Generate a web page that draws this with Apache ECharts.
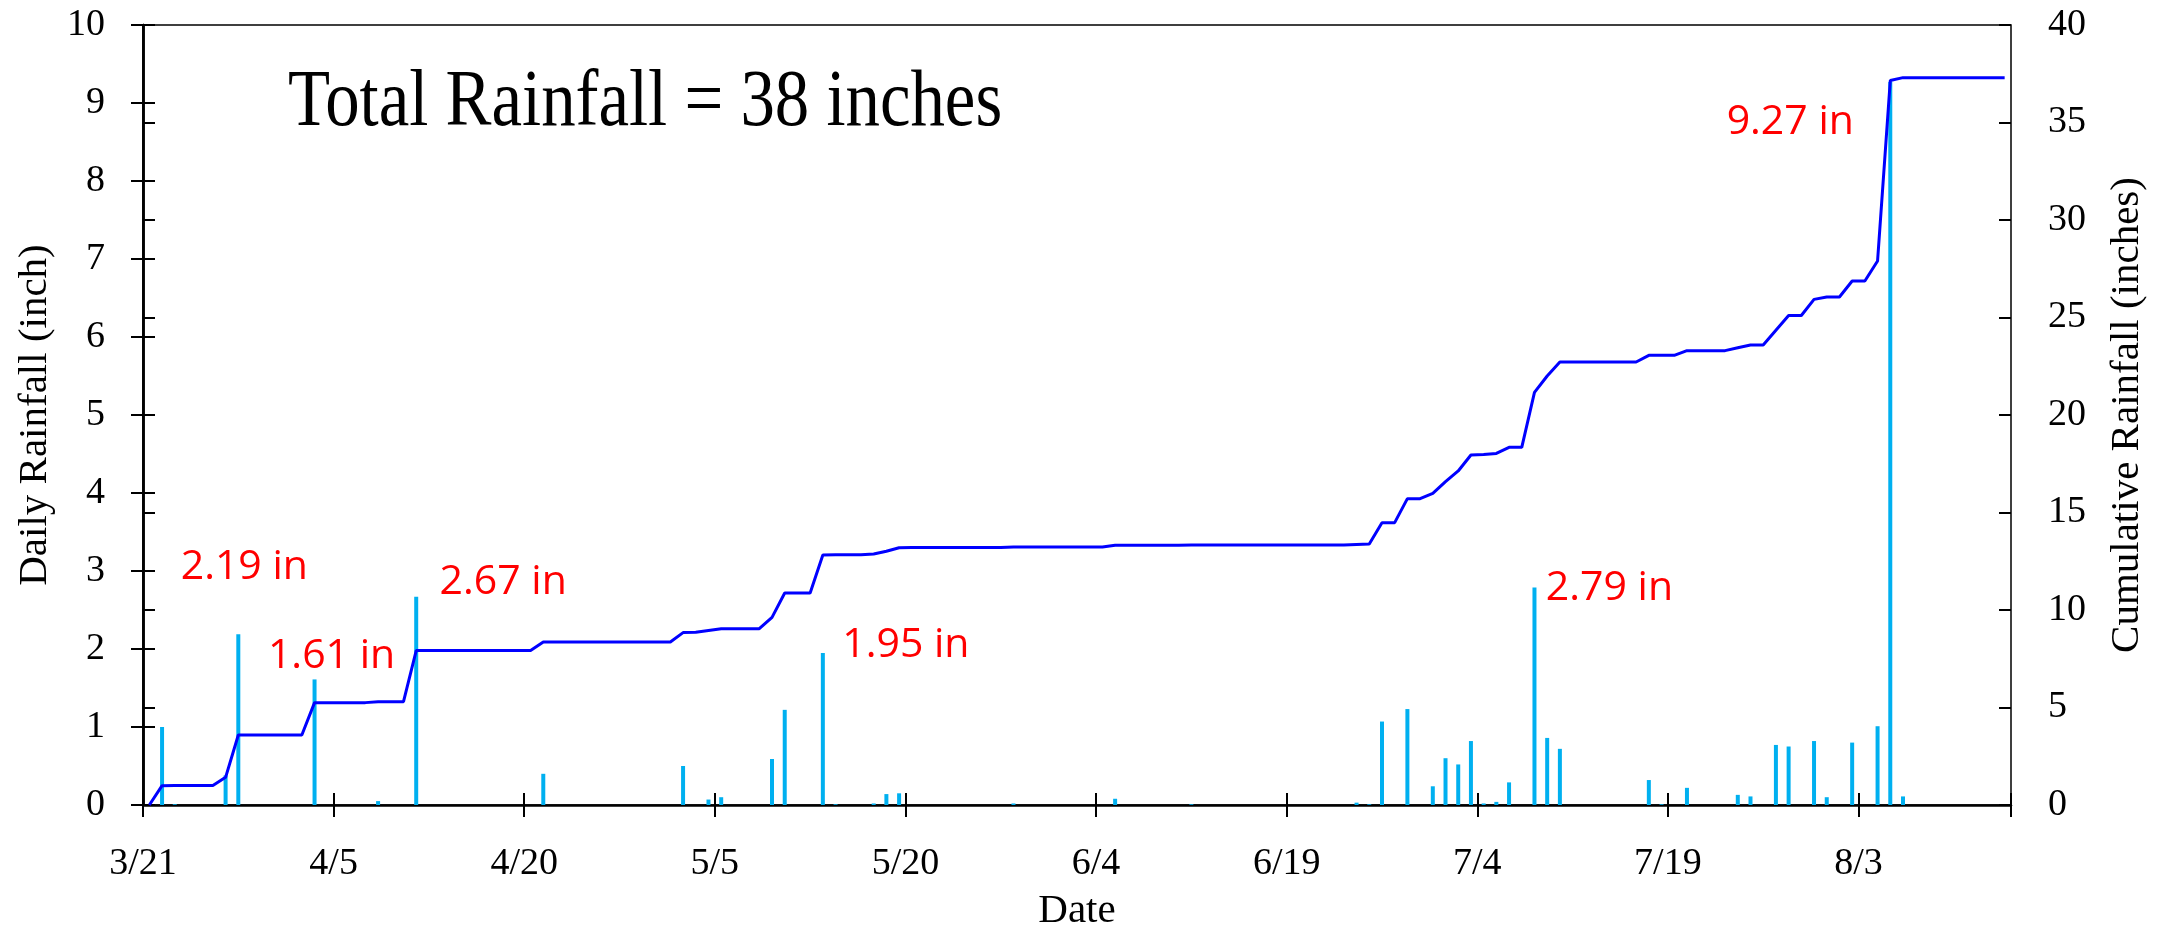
<!DOCTYPE html>
<html lang="en">
<head>
    <meta charset="UTF-8">
    <title>Rainfall</title>
    <script type="text/javascript" src="https://cdn.jsdelivr.net/npm/echarts@6/dist/echarts.min.js"></script>
    <style>
        body { margin: 0; background: #fff; }
    </style>
</head>
<body>
    <div id="main" style="width: 2165px;height:933px;"></div>
    <script type="text/javascript">

        // daily rainfall (inch), one value per day starting 3/21
        var daily = [
            0, 1.0, 0.01, 0, 0, 0, 0.38, 2.19, 0, 0,
            0, 0, 0, 1.61, 0, 0, 0, 0, 0.05, 0,
            0, 2.67, 0, 0, 0, 0, 0, 0, 0, 0,
            0, 0.40, 0, 0, 0, 0, 0, 0, 0, 0,
            0, 0, 0.50, 0, 0.07, 0.10, 0, 0, 0, 0.59,
            1.22, 0, 0, 1.95, 0.01, 0, 0, 0.02, 0.14, 0.15,
            0, 0, 0, 0, 0, 0, 0, 0, 0.02, 0,
            0, 0, 0, 0, 0, 0, 0.08, 0, 0, 0,
            0, 0, 0.01, 0, 0, 0, 0, 0, 0, 0,
            0, 0, 0, 0, 0, 0.03, 0.01, 1.07, 0, 1.23,
            0, 0.24, 0.60, 0.52, 0.82, 0.02, 0.04, 0.29, 0, 2.79,
            0.86, 0.72, 0, 0, 0, 0, 0, 0, 0.32, 0.01,
            0, 0.22, 0, 0, 0, 0.13, 0.11, 0, 0.77, 0.75,
            0, 0.82, 0.10, 0, 0.80, 0, 1.01, 9.27, 0.11, 0,
            0, 0, 0, 0, 0, 0, 0
        ];

        // cumulative rainfall (inches), same days
        var cumulative = [
            0, 0.99, 1.0, 1.0, 1.0, 1.0, 1.42, 3.59, 3.59, 3.59,
            3.59, 3.59, 3.59, 5.25, 5.25, 5.25, 5.25, 5.25, 5.3, 5.3,
            5.3, 7.92, 7.92, 7.92, 7.92, 7.92, 7.92, 7.92, 7.92, 7.92,
            7.92, 8.36, 8.36, 8.36, 8.36, 8.36, 8.36, 8.36, 8.36, 8.36,
            8.36, 8.36, 8.84, 8.86, 8.95, 9.04, 9.04, 9.04, 9.04, 9.62,
            10.87, 10.87, 10.87, 12.82, 12.83, 12.83, 12.83, 12.87, 13.01, 13.19,
            13.2, 13.2, 13.2, 13.2, 13.2, 13.2, 13.2, 13.2, 13.23, 13.23,
            13.23, 13.23, 13.23, 13.23, 13.23, 13.23, 13.32, 13.32, 13.32, 13.32,
            13.32, 13.32, 13.33, 13.33, 13.33, 13.33, 13.33, 13.33, 13.33, 13.33,
            13.33, 13.33, 13.33, 13.33, 13.33, 13.36, 13.38, 14.48, 14.48, 15.71,
            15.71, 15.98, 16.58, 17.13, 17.95, 17.98, 18.03, 18.34, 18.34, 21.16,
            22.0, 22.72, 22.72, 22.72, 22.72, 22.72, 22.72, 22.72, 23.06, 23.06,
            23.06, 23.3, 23.3, 23.3, 23.3, 23.45, 23.59, 23.59, 24.35, 25.1,
            25.1, 25.93, 26.05, 26.05, 26.87, 26.87, 27.9, 37.15, 37.3, 37.3,
            37.3, 37.3, 37.3, 37.3, 37.3, 37.3, 37.3
        ];

        // x tick labels, every 15 days
        var tickLabels = ['3/21', '4/5', '4/20', '5/5', '5/20', '6/4', '6/19', '7/4', '7/19', '8/3'];

        // days that get a red value label, and where the label sits (px from bar top)
        var labelDays = [7, 13, 21, 53, 109, 137];
        var labelOffsets = [[6, -67], [17, -23], [87, -14], [83, -8], [75, 1], [-100, 40]];

        var titleText = 'Total Rainfall = 38 inches';

        var serif = 'Liberation Serif';
        var numDays = daily.length;

        // each day is drawn at its middle
        var barData = daily.map(function (v, i) { return [i + 0.5, v]; });
        var lineData = cumulative.map(function (v, i) { return [i + 0.5, v]; });

        var markData = labelDays.map(function (d, k) {
            return {
                coord: [d + 0.5, daily[d]],
                value: daily[d],
                label: { offset: labelOffsets[k] }
            };
        });

        var myChart = echarts.init(document.getElementById('main'));

        var option = {
            animation: false,
            backgroundColor: '#fff',
            grid: {
                left: 143, right: 154, top: 25, bottom: 128,
                outerBoundsMode: 'none',
                show: true, borderColor: '#000', borderWidth: 1.5
            },
            graphic: [{
                type: 'text',
                x: 288,
                y: 104,
                scaleX: 0.86,
                style: {
                    text: titleText,
                    fontSize: 80,
                    fontFamily: serif,
                    fill: '#000',
                    align: 'left',
                    verticalAlign: 'middle'
                }
            }],
            xAxis: [{
                type: 'value',
                min: 0,
                max: numDays,
                interval: 15,
                name: 'Date',
                nameLocation: 'middle',
                nameGap: 86,
                nameTextStyle: { fontFamily: serif, fontSize: 41, color: '#000' },
                axisLine: { lineStyle: { color: '#000', width: 2.5 } },
                axisTick: { length: 12, lineStyle: { color: '#000', width: 2 } },
                axisLabel: {
                    margin: 40,
                    fontFamily: serif, fontSize: 38, color: '#000',
                    formatter: function (v) {
                        return v % 15 === 0 ? (tickLabels[v / 15] || '') : '';
                    }
                },
                splitLine: { show: false }
            }, {
                // inner half of the crossing ticks
                type: 'value',
                min: 0,
                max: numDays,
                interval: 15,
                position: 'bottom',
                axisLine: { show: false },
                axisTick: { inside: true, length: 12, lineStyle: { color: '#000', width: 2 } },
                axisLabel: { show: false },
                splitLine: { show: false }
            }],
            yAxis: [{
                type: 'value',
                min: 0,
                max: 10,
                interval: 1,
                position: 'left',
                name: 'Daily Rainfall (inch)',
                nameLocation: 'middle',
                nameRotate: 90,
                nameGap: 86,
                nameTextStyle: { fontFamily: serif, fontSize: 41, color: '#000' },
                axisLine: { show: true, lineStyle: { color: '#000', width: 2.5 } },
                axisTick: { show: true, length: 12, lineStyle: { color: '#000', width: 2 } },
                axisLabel: { margin: 38, fontFamily: serif, fontSize: 38, color: '#000' },
                splitLine: { show: false }
            }, {
                type: 'value',
                min: 0,
                max: 40,
                interval: 5,
                position: 'right',
                name: 'Cumulative Rainfall (inches)',
                nameLocation: 'middle',
                nameRotate: 90,
                nameGap: 96,
                nameTextStyle: { fontFamily: serif, fontSize: 41, color: '#000' },
                axisLine: { show: true, lineStyle: { color: '#000', width: 2.5 } },
                axisTick: { show: true, length: 12, lineStyle: { color: '#000', width: 2 } },
                axisLabel: { margin: 37, fontFamily: serif, fontSize: 38, color: '#000' },
                splitLine: { show: false }
            }, {
                type: 'value',
                min: 0,
                max: 10,
                interval: 1,
                position: 'left',
                axisLine: { show: false },
                axisTick: { show: true, inside: true, length: 12, lineStyle: { color: '#000', width: 2 } },
                axisLabel: { show: false },
                splitLine: { show: false }
            }, {
                type: 'value',
                min: 0,
                max: 40,
                interval: 5,
                position: 'right',
                axisLine: { show: false },
                axisTick: { show: true, inside: true, length: 12, lineStyle: { color: '#000', width: 2 } },
                axisLabel: { show: false },
                splitLine: { show: false }
            }],
            series: [{
                name: 'Daily',
                type: 'bar',
                xAxisIndex: 0,
                yAxisIndex: 0,
                barWidth: 4,
                itemStyle: { color: '#00B0F0' },
                data: barData,
                z: 2,
                markPoint: {
                    symbol: 'circle',
                    symbolSize: 0,
                    label: {
                        show: true,
                        position: 'inside',
                        fontFamily: 'Open Sans',
                        fontSize: 41,
                        color: '#FF0000',
                        formatter: function (p) { return p.value.toFixed(2) + ' in'; }
                    },
                    data: markData
                }
            }, {
                name: 'Cumulative',
                type: 'line',
                xAxisIndex: 0,
                yAxisIndex: 1,
                showSymbol: false,
                symbol: 'none',
                lineStyle: { color: '#0000FF', width: 3 },
                data: lineData,
                z: 3
            }]
        };

        myChart.setOption(option);

    </script>
</body>
</html>
